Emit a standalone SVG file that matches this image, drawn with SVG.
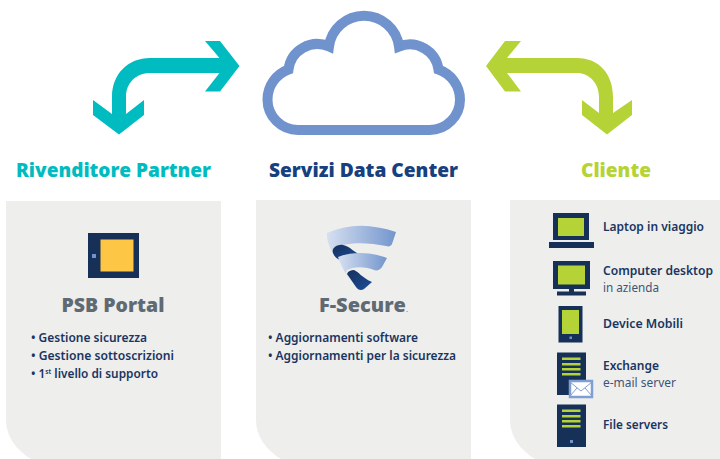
<svg xmlns="http://www.w3.org/2000/svg" width="720" height="459" viewBox="0 0 720 459">
<style>
text{font-family:"Noto Sans","Open Sans",sans-serif}
.h{font-size:20px;font-weight:800;font-family:"Open Sans","Noto Sans",sans-serif}
.t{font-size:20px;font-weight:800;fill:#5f6a72;font-family:"Open Sans","Noto Sans",sans-serif}
.b{font-size:12.5px;font-weight:600;fill:#1a3560}
.r{font-size:12.5px;fill:#3c5478}
.panel{fill:#eeeeed}
.navy{fill:#163058}
.lime{fill:#b5d336}
.dot{fill:#7093cd}
</style>
<defs>
<linearGradient id="ga" x1="0" x2="1" y1="0" y2="0"><stop offset="0" stop-color="#d6e0f1"/><stop offset="1" stop-color="#7395cd"/></linearGradient>
<linearGradient id="gb" x1="0" x2="1" y1="0" y2="1"><stop offset="0" stop-color="#16305c"/><stop offset="1" stop-color="#1d4f9b"/></linearGradient>
<g id="server"><rect x="0" y="0" width="29" height="42.500" class="navy"/><g class="lime"><rect x="5" y="5" width="18.500" height="2.500"/><rect x="5" y="10.500" width="18.500" height="2.500"/><rect x="5" y="15.500" width="18.500" height="2.500"/><rect x="5" y="20.500" width="18.500" height="2.500"/></g></g>
</defs>
<g id="connectors">
<path id="arrow-left" fill="#00bcc1" d="M239.500 66L220 41H205L219.500 58H150C128 58 112 74 112 97V114L93 100V115L119 134.500L144 115V100L126 114V97C126 83 136 73 150 73H219.500L205 91.500H220Z"/>
<path id="arrow-right" fill="#b5d336" d="M486 66L505 41H521L507 58H577C599 58 613 74 613 97V113L632 100V115L607 134.500L582 115V100L599 113V97C599 83 589 73 577 73H507L521 91.500H505Z"/>
</g>
<g id="cloud"><path d="M298 130A30.500 30.500 0 0 1 267.500 99.500A32 32 0 0 1 288.500 69.500A29 29 0 0 1 329 46.500A35.300 35.300 0 0 1 399 46.500A29 29 0 0 1 438.500 69.500A32 32 0 0 1 460 99.500A30.500 30.500 0 0 1 429.500 130Z" fill="none" stroke="#7093cd" stroke-width="10"/></g>
<g id="partner">
<path class="panel" d="M6 201H221V459H31C16 450 6 436 6 420Z"/>
<text class="h" x="16" y="177" fill="#00bcc1" textLength="195" lengthAdjust="spacingAndGlyphs">Rivenditore Partner</text>
<rect x="88" y="233" width="51" height="45" class="navy"/><rect x="100.500" y="239.500" width="33" height="32" fill="#fdc645"/><rect x="92" y="254" width="4" height="4" class="dot"/>
<text class="t" x="113" y="312" text-anchor="middle" textLength="103" lengthAdjust="spacingAndGlyphs">PSB Portal</text>
<text class="b" x="31" y="342" textLength="116" lengthAdjust="spacingAndGlyphs">• Gestione sicurezza</text>
<text class="b" x="31" y="360" textLength="143" lengthAdjust="spacingAndGlyphs">• Gestione sottoscrizioni</text>
<text class="b" x="31" y="378" textLength="127" lengthAdjust="spacingAndGlyphs">• 1<tspan font-size="7" dy="-4">st</tspan><tspan dy="4"> livello di supporto</tspan></text>
</g>
<g id="datacenter">
<path class="panel" d="M256 200H471V459H281C266 450 256 436 256 420Z"/>
<text class="h" x="269" y="177" fill="#17407f" textLength="189" lengthAdjust="spacingAndGlyphs">Servizi Data Center</text>
<path fill="url(#ga)" d="M327 233C350 223 372 224 396 232L392 244C391 246 389 247 386 246C372 243 355 242 343 245L333 250C334 254 336 258 339 262C331 252 326 241 327 233Z"/>
<path fill="url(#gb)" d="M333 253C331 248 338 244 343 245C350 246 354 253 362 255L340 260C337 259 334 256 333 253Z"/>
<path fill="url(#ga)" d="M338 257C352 251 372 252 387 258L382 267C380 270 377 271 374 270C366 267 356 266 347 270L346 273C348 277 350 280 353 284C346 275 341 266 338 257Z"/>
<path fill="url(#gb)" d="M347 274C348 271 351 270 354 270C359 272 361 277 372 282L364 289C361 291 358 290 356 287Z"/>
<text class="t" x="319" y="312" textLength="89" lengthAdjust="spacingAndGlyphs">F-Secure<tspan font-size="8" font-weight="400">.</tspan></text>
<text class="b" x="268" y="342" textLength="150" lengthAdjust="spacingAndGlyphs">• Aggiornamenti software</text>
<text class="b" x="268" y="360" textLength="188" lengthAdjust="spacingAndGlyphs">• Aggiornamenti per la sicurezza</text>
</g>
<g id="cliente">
<path class="panel" d="M510 200H720V459H535C520 450 510 436 510 420Z"/>
<text class="h" x="581" y="177" fill="#b5d336" textLength="70" lengthAdjust="spacingAndGlyphs">Cliente</text>
<g id="laptop"><rect x="553" y="213" width="36" height="27" class="navy"/><rect x="558" y="218" width="26" height="18" class="lime"/><rect x="549" y="242" width="45" height="6" class="navy"/><text class="b" x="603" y="231" textLength="101" lengthAdjust="spacingAndGlyphs">Laptop in viaggio</text></g>
<g id="desktop"><rect x="553" y="261" width="37" height="28" class="navy"/><rect x="558" y="265.500" width="27" height="19" class="lime"/><rect x="569" y="289" width="5" height="3" class="navy"/><rect x="557" y="291.500" width="29" height="4" class="navy"/><text class="b" x="603" y="275" textLength="110" lengthAdjust="spacingAndGlyphs">Computer desktop</text><text class="r" x="603" y="292" textLength="56" lengthAdjust="spacingAndGlyphs">in azienda</text></g>
<g id="mobile"><rect x="558.500" y="306" width="24" height="36.500" class="navy"/><rect x="562" y="310" width="17" height="24" class="lime"/><rect x="569.500" y="336.500" width="2.500" height="2.500" class="dot"/><text class="b" x="603" y="328" textLength="80" lengthAdjust="spacingAndGlyphs">Device Mobili</text></g>
<g id="exchange"><use href="#server" x="557" y="352.500"/><rect x="570" y="381" width="22" height="16" fill="#fff" stroke="#7f9fd4" stroke-width="2.500"/><path d="M570 382L581 391L592 382M570 396L577 388M592 396L585 388" fill="none" stroke="#7f9fd4" stroke-width="1"/><text class="b" x="603" y="370" textLength="56" lengthAdjust="spacingAndGlyphs">Exchange</text><text class="r" x="603" y="387" textLength="73" lengthAdjust="spacingAndGlyphs">e-mail server</text></g>
<g id="fileservers"><use href="#server" x="557" y="404.500"/><rect x="570" y="440" width="3" height="3" class="dot"/><text class="b" x="603" y="429" textLength="65" lengthAdjust="spacingAndGlyphs">File servers</text></g>
</g>
</svg>
